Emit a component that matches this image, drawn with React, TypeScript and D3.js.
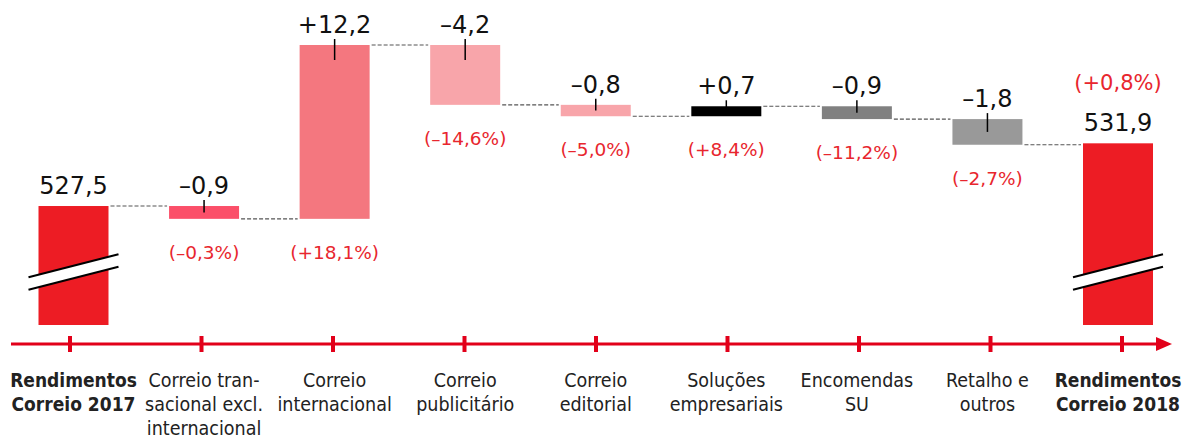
import React from "react";
import { scaleLinear, scalePoint, max } from "d3";

// waterfall: revenue Correio 2017 -> 2018
const categories = [
  ["Rendimentos", "Correio 2017"],
  ["Correio tran-", "sacional excl.", "internacional"],
  ["Correio", "internacional"],
  ["Correio", "publicitário"],
  ["Correio", "editorial"],
  ["Soluções", "empresariais"],
  ["Encomendas", "SU"],
  ["Retalho e", "outros"],
  ["Rendimentos", "Correio 2018"],
];
const isTotal = [true, false, false, false, false, false, false, false, true];
const values = [527.5, -0.9, 12.2, -4.2, -0.8, 0.7, -0.9, -1.8, 531.9];
const valueLabels = ["527,5", "–0,9", "+12,2", "–4,2", "–0,8", "+0,7", "–0,9", "–1,8", "531,9"];
const pctLabels = ["", "(–0,3%)", "(+18,1%)", "(–14,6%)", "(–5,0%)", "(+8,4%)", "(–11,2%)", "(–2,7%)", "(+0,8%)"];
const barColors = ["#ed1c24", "#fb4f69", "#f4777f", "#f8a5aa", "#f8a5aa", "#000000", "#808080", "#999999", "#ed1c24"];
const breakFloor = 519.15; // value at the bottom of the broken total bars

const W = 1188;
const H = 439;
const RED = "#e2001a";
const PCT_RED = "#e8262e";
const LABEL_FONT = "'Liberation Sans Narrow', 'DejaVu Sans Condensed', sans-serif";
const NUM_FONT = "'DejaVu Sans', sans-serif";

export default function App() {
  // running start/end for each bar
  let run = 0;
  const bars = values.map((v, i) => {
    if (isTotal[i]) {
      run = v;
      return { i, lo: breakFloor, hi: v, end: v };
    }
    const start = run;
    run = run + v;
    return { i, lo: Math.min(start, run), hi: Math.max(start, run), end: run };
  });

  const idx = categories.map((_, i) => i);
  // bars sit slightly inside the axis ticks
  const x = scalePoint<number>().domain(idx).range([73.5, 1118]);
  const xTick = scalePoint<number>().domain(idx).range([70, 1122]);
  const y = scaleLinear()
    .domain([breakFloor, max(bars, (b) => b.hi) as number])
    .range([325, 45]);

  const barW = 70;
  const axisY = 344;

  return (
    <svg width={W} height={H} style={{ position: "absolute", left: 0, top: 0 }}>
      {/* connectors */}
      {bars.slice(0, -1).map((b, i) => {
        const x1 = (x(i) as number) + barW / 2 + 2;
        const x2 = (x(i + 1) as number) - barW / 2 - 2;
        return (
          <line key={"c" + i} x1={x1} x2={x2} y1={y(b.end)} y2={y(b.end)}
            stroke="#555" strokeWidth={1.2} strokeDasharray="4 2" />
        );
      })}

      {bars.map((b) => {
        const cx = x(b.i) as number;
        const top = y(b.hi);
        const bottom = y(b.lo);
        const h = bottom - top;
        return (
          <g key={b.i}>
            <rect x={cx - barW / 2} y={top} width={barW} height={h} fill={barColors[b.i]} />
            {isTotal[b.i] ? (
              (() => {
                // axis-break marks
                const by = bottom - 53;
                const x1 = cx - 45, x2 = cx + 45;
                const d = 11.5;
                const g = 6.3;
                return (
                  <g>
                    <polygon
                      points={`${x1},${by + d - g} ${x2},${by - d - g} ${x2},${by - d + g} ${x1},${by + d + g}`}
                      fill="#fff" />
                    <line x1={x1} y1={by + d - g} x2={x2} y2={by - d - g} stroke="#000" strokeWidth={2} />
                    <line x1={x1} y1={by + d + g} x2={x2} y2={by - d + g} stroke="#000" strokeWidth={2} />
                  </g>
                );
              })()
            ) : (
              <line x1={cx} x2={cx} y1={top - 6} y2={top + Math.min(15, h / 2)} stroke="#000" strokeWidth={1.5} />
            )}
            <text x={cx} y={top - 12} textAnchor="middle" fontFamily={NUM_FONT} fontSize={24} fill="#111">
              {valueLabels[b.i]}
            </text>
            {pctLabels[b.i] && (
              <text x={cx} y={isTotal[b.i] ? top - 53 : bottom + 40} textAnchor="middle"
                fontFamily={NUM_FONT} fontSize={isTotal[b.i] ? 21 : 18.5} fill={PCT_RED}>
                {pctLabels[b.i]}
              </text>
            )}
          </g>
        );
      })}

      {/* axis */}
      <line x1={11} x2={1160} y1={axisY} y2={axisY} stroke={RED} strokeWidth={3} />
      <polygon points={`1156,${axisY - 7} 1172,${axisY} 1156,${axisY + 7}`} fill={RED} />
      {idx.map((i) => (
        <rect key={"t" + i} x={(xTick(i) as number) - 2} y={axisY - 8} width={4} height={16} fill={RED} />
      ))}
      {categories.map((lines, i) => (
        <text key={"l" + i} textAnchor="middle" fontFamily={LABEL_FONT} fontSize={isTotal[i] ? 19 : 19.5}
          fontWeight={isTotal[i] ? "bold" : "normal"} fill="#222">
          {lines.map((l, j) => (
            <tspan key={j} x={x(i) as number} y={387 + j * 24}>{l}</tspan>
          ))}
        </text>
      ))}
    </svg>
  );
}
